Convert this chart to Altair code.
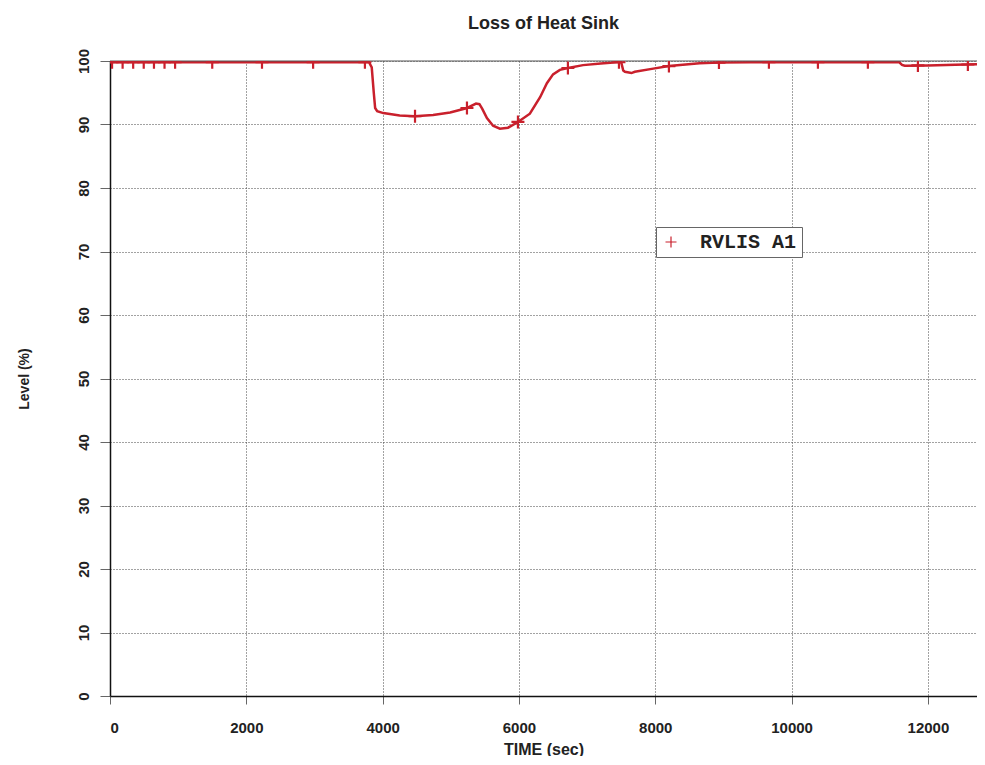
import altair as alt
import pandas as pd

RED = "#c9202c"

# Main curve (time in s, level in %)
time_s = [0, 3800, 3840, 3870, 3890, 3920, 4010, 4250, 4470, 4740, 4990, 5240,
          5370, 5420, 5460, 5530, 5620, 5720, 5840, 5985, 6160, 6310, 6410, 6500,
          6600, 6720, 6940, 7200, 7430, 7500, 7530, 7555, 7650, 7700, 7970, 8200,
          8650, 8930, 9400, 11580, 11620, 11660, 12000, 12400, 12720]
level_pct = [99.8, 99.8, 99.0, 95.0, 92.6, 92.1, 91.8, 91.4, 91.3, 91.5, 91.9, 92.6,
             93.3, 93.2, 92.5, 91.0, 89.8, 89.35, 89.5, 90.4, 91.7, 94.3, 96.5, 97.9,
             98.6, 98.9, 99.35, 99.6, 99.8, 99.8, 98.5, 98.3, 98.1, 98.3, 98.8, 99.2,
             99.65, 99.75, 99.8, 99.8, 99.4, 99.25, 99.3, 99.4, 99.5]

# "+" markers along the curve
marker_t = [30, 185, 340, 495, 645, 800, 955, 1500, 2230, 2980, 3740, 4475,
            5237, 5985, 6718, 7467, 8200, 8934, 9667, 10386, 11119, 11853, 12586]
marker_v = [99.8, 99.8, 99.8, 99.8, 99.8, 99.8, 99.8, 99.8, 99.8, 99.8, 99.8, 91.3,
            92.6, 90.4, 98.9, 99.8, 99.2, 99.75, 99.8, 99.8, 99.8, 99.3, 99.45]
series_name = "RVLIS A1"

x_ticks = [0, 2000, 4000, 6000, 8000, 10000, 12000]
y_ticks = [0, 10, 20, 30, 40, 50, 60, 70, 80, 90, 100]
top_line = [100]

line_df = pd.DataFrame({"t": time_s, "v": level_pct})
mk_df = pd.DataFrame({"t": marker_t, "v": marker_v, "series": [series_name] * len(marker_t)})
top_df = pd.DataFrame({"v": top_line})

FONT = "Liberation Sans"
GRID = dict(grid=True, gridColor="#444", gridDash=[1, 2], gridWidth=1)

x_enc = alt.X(
    "t:Q",
    scale=alt.Scale(domain=[0, 12720], nice=False, zero=False),
    axis=alt.Axis(
        values=x_ticks, title="TIME (sec)", format="d", **GRID,
        tickColor="#666", tickSize=8, domainColor="#111", domainWidth=1.5,
        labelFont=FONT, labelFontWeight="bold", labelFontSize=15, labelColor="#222",
        labelBaseline="alphabetic", labelPadding=28,
        titleFont=FONT, titleFontWeight="bold", titleFontSize=16, titleColor="#222",
        titleBaseline="alphabetic", titleY=58,
    ),
)
y_enc = alt.Y(
    "v:Q",
    scale=alt.Scale(domain=[0, 100], nice=False, zero=False),
    axis=alt.Axis(
        values=y_ticks, title="Level (%)", **GRID,
        tickColor="#666", tickSize=10, domainColor="#111", domainWidth=1.5,
        labelFont=FONT, labelFontWeight="bold", labelFontSize=15, labelColor="#222",
        labelAngle=270, labelAlign="center", labelBaseline="alphabetic", labelPadding=12,
        titleFont=FONT, titleFontWeight="bold", titleFontSize=14, titleColor="#222",
        titleAngle=270, titleAlign="center", titleBaseline="alphabetic",
        titleX=-82, titleY=317.5,
    ),
)

line = alt.Chart(line_df).mark_line(color=RED, strokeWidth=2.5, clip=True).encode(
    x=x_enc, y=y_enc
)

top_rule = alt.Chart(top_df).mark_rule(color="#555", strokeWidth=1).encode(y="v:Q")

pts = alt.Chart(mk_df).mark_point(
    shape="M-1,0H1M0,-1V1", size=169, strokeWidth=2.2, filled=False, opacity=1, clip=True
).encode(
    x="t:Q",
    y="v:Q",
    color=alt.Color(
        "series:N",
        scale=alt.Scale(range=[RED]),
        legend=alt.Legend(
            title=None, orient="none", legendX=546, legendY=166,
            fillColor="white", strokeColor="#666", padding=5, cornerRadius=0,
            symbolType="M-1,0H1M0,-1V1", symbolSize=121, symbolStrokeWidth=1.2,
            symbolStrokeColor=RED, symbolFillColor="transparent",
            labelFont="Liberation Mono", labelFontWeight="bold", labelFontSize=20,
            labelColor="#222", labelOffset=19,
        ),
    ),
)

chart = (
    alt.layer(line, top_rule, pts)
    .properties(
        width=867,
        height=635,
        autosize=alt.AutoSizeParams(type="none"),
        padding={"left": 102, "top": 53, "right": 0, "bottom": 60},
        title=alt.TitleParams(
            "Loss of Heat Sink", font=FONT, fontWeight="bold", fontSize=18,
            color="#222", anchor="middle", baseline="alphabetic", offset=1,
        ),
    )
    .configure_view(stroke=None)
)

chart.save("out.html", embed_options={"renderer": "svg", "actions": False})
